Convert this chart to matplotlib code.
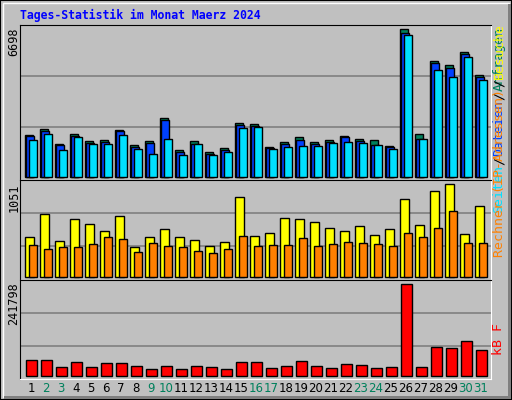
import matplotlib
matplotlib.use('Agg')
import matplotlib.pyplot as plt
from matplotlib.patches import Rectangle
import numpy as np

days = np.arange(1, 32)
weekend = [2, 3, 9, 10, 16, 17, 23, 24, 30, 31]

anfragen = [1890, 2162, 1512, 1935, 1618, 1663, 2117, 1436, 1618, 2661, 1210, 1618, 1119, 1300, 2434, 2389,
            1346, 1572, 1799, 1572, 1663, 1845, 1709, 1663, 1391, 6698, 1935, 5247, 5065, 5655, 4612]
dateien = [1845, 2102, 1467, 1875, 1557, 1603, 2071, 1376, 1557, 2570, 1149, 1482, 1058, 1240, 2374, 2313,
           1330, 1482, 1693, 1512, 1603, 1799, 1648, 1467, 1346, 6517, 1739, 5186, 4959, 5594, 4551]
seiten = [1663, 1966, 1240, 1799, 1482, 1482, 1890, 1285, 1058, 1709, 983, 1482, 983, 1119, 2207, 2253,
          1255, 1346, 1391, 1391, 1527, 1572, 1527, 1436, 1255, 6426, 1739, 4838, 4521, 5428, 4385]
besuche = [448, 709, 402, 653, 596, 516, 687, 334, 448, 539, 448, 414, 345, 391, 903, 459,
           493, 664, 653, 618, 550, 516, 573, 470, 539, 880, 584, 971, 1051, 482, 801]
rechner = [357, 322, 334, 334, 368, 448, 425, 277, 379, 345, 334, 288, 266, 311, 459, 345,
           357, 357, 436, 345, 368, 391, 379, 368, 345, 493, 448, 550, 744, 379, 379]
kbytes = [40600, 40600, 22060, 35300, 22060, 32650, 32650, 24710, 16770, 24710, 16770, 24710, 22060, 16770,
          35300, 35300, 19420, 24710, 37950, 24710, 19420, 30000, 27360, 19420, 22060, 241798, 22060,
          75010, 72370, 90900, 67070]

BG = '#c0c0c0'
W, H = 512, 400
fig = plt.figure(figsize=(W / 100, H / 100), dpi=100, facecolor=BG)

def px_axes(x0, y0, x1, y1):
    return fig.add_axes([x0 / W, 1 - y1 / H, (x1 - x0) / W, (y1 - y0) / H])

# outer border
fig.patches.append(Rectangle((0, 0), 1, 1, transform=fig.transFigure, fill=False, ec='black', lw=1.5))
fig.patches.append(Rectangle((3 / W, 3 / H), 1 - 6 / W, 1 - 6 / H, transform=fig.transFigure,
                             fill=False, ec='white', lw=1))
fig.patches.append(Rectangle((4 / W, 1 / H), 1 - 5 / W, 3 / H, transform=fig.transFigure, color='#808080', lw=0))
fig.patches.append(Rectangle((1 - 4 / W, 1 / H), 3 / W, 1 - 5 / H, transform=fig.transFigure, color='#808080', lw=0))

mono = 'DejaVu Sans Mono'
fig.text(20 / W, 1 - 15 / H, 'Tages-Statistik im Monat Maerz 2024', color='#0000ff', fontsize=8.3,
         fontweight='bold', family=mono, va='center', ha='left')

panels = [
    (25, 180, (-136, 6887), [2256, 4572], '6698'),
    (180, 279.5, (-30, 1100), [346, 721], '1051'),
    (279.5, 379, (-8730, 255000), [78560, 165000], '241798'),
]
axs = []
for y0, y1, yl, grid, lab in panels:
    ax = px_axes(20, y0, 491, y1)
    ax.set_facecolor(BG)
    ax.set_xlim(0.267, 31.67)
    ax.set_ylim(*yl)
    for g in grid:
        ax.axhline(g, color='#808080', lw=1.2, zorder=0)
    ax.set_xticks([])
    ax.set_yticks([])
    for s in ax.spines.values():
        s.set_color('black')
    ax.spines['bottom'].set_color('white')
    ax.spines['right'].set_color('white')
    fig.text(14 / W, 1 - (y0 + 3) / H, lab, rotation=90, ha='center', va='top', fontsize=8.5, family=mono)
    axs.append(ax)

kw = dict(align='edge', edgecolor='black', linewidth=1)
axs[0].bar(days - 0.4, anfragen, 0.53, color='#00805c', **kw)
axs[0].bar(days - 0.3, dateien, 0.53, color='#0040ff', **kw)
axs[0].bar(days - 0.13, seiten, 0.53, color='#00e0ff', **kw)
axs[1].bar(days - 0.4, besuche, 0.57, color='#ffff00', **kw)
axs[1].bar(days - 0.13, rechner, 0.5, color='#ff8000', **kw)
axs[2].bar(days - 0.33, kbytes, 0.7, color='#ff0000', **kw)

for d in days:
    c = '#00805c' if d in weekend else 'black'
    fig.text((15 * d + 16) / W, 1 - 389 / H, str(d), color=c, ha='center', va='center', fontsize=8.5)

# right labels
cw = 8.1
xr = 499 / W
top_segs = [('Anfragen', '#00805c'), ('/', 'black'), ('Dateien', '#0040ff'), ('/', 'black'), ('Seiten', '#00e0ff')]
pos = 27
for s, c in top_segs:
    fig.text(xr, 1 - pos / H, s, rotation=90, color=c, ha='center', va='top', fontsize=9.5, family=mono)
    pos += cw * len(s)
bot_segs = [('Rechner (IP-Adressen)', '#ff8000'), ('/', 'black'), ('Besuche', '#ffff00')]
pos = 257
for s, c in bot_segs:
    fig.text(xr, 1 - pos / H, s, rotation=90, color=c, ha='center', va='bottom', fontsize=9.5, family=mono)
    pos -= cw * len(s)
fig.text(xr, 1 - 355 / H, 'kB F', rotation=90, color='#ff0000', ha='center', va='bottom', fontsize=9.5, family=mono)

fig.savefig('out.png', dpi=100, facecolor=BG)
